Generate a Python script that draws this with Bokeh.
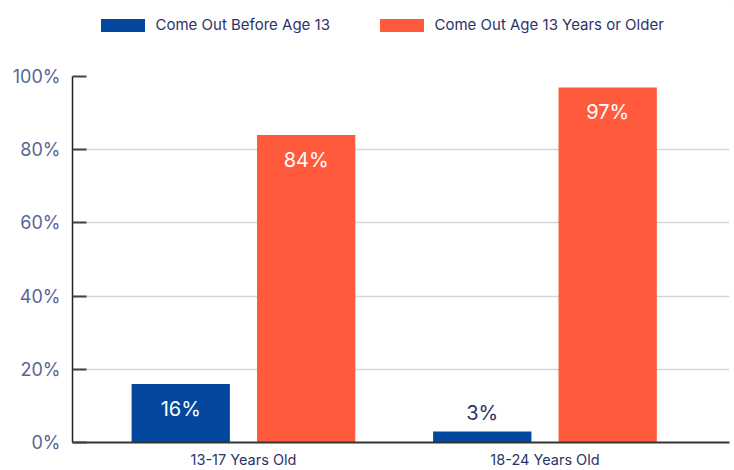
from bokeh.plotting import figure
from bokeh.layouts import column
from bokeh.models import (Range1d, FixedTicker, PrintfTickFormatter, Legend,
                          LegendItem, ColumnDataSource)
from bokeh.core.properties import value
from bokeh.embed import file_html
from bokeh.resources import INLINE

# Survey data: share of respondents by age group
age_groups = ["13-17 Years Old", "18-24 Years Old"]
series_names = ["Come Out Before Age 13", "Come Out Age 13 Years or Older"]
before_13 = [16, 3]
age_13_or_older = [84, 97]
y_ticks = [0, 20, 40, 60, 80, 100]

BLUE = "#03489e"
ORANGE = "#ff5a3c"
NAVY = "#2c3467"
TICK_TEXT = "#5a6494"
FONT = "Inter"

TOP_H = 64

# ---- main chart ----
p = figure(width=734, height=470 - TOP_H, output_backend="svg",
           toolbar_location=None,
           x_range=Range1d(-0.567, 1.612), y_range=Range1d(0, 100),
           min_border_left=72, min_border_right=5, min_border_top=12,
           min_border_bottom=28)
p.outline_line_color = None

offset = 0.208
bar_w = 0.326
idx = list(range(len(age_groups)))
colors = [BLUE, ORANGE]

for vals, color, off in zip([before_13, age_13_or_older], colors, [-offset, offset]):
    xs = [i + off for i in idx]
    src = ColumnDataSource(dict(x=xs, top=vals))
    p.vbar(x="x", top="top", width=bar_w, bottom=0, source=src,
           fill_color=color, line_color=None)

    # value labels: inside the bar for tall bars, above it for short ones
    inside = [v >= 10 for v in vals]
    lab = ColumnDataSource(dict(
        x=xs, y=vals, text=[f"{v}%" for v in vals],
        color=["white" if ins else NAVY for ins in inside],
        dy=[25 if ins else -19 for ins in inside]))
    p.text(x="x", y="y", text="text", source=lab, text_color="color",
           y_offset="dy", text_align="center", text_baseline="middle",
           text_font_size="20px", text_font=value(FONT))

# axes
p.xaxis.ticker = FixedTicker(ticks=idx)
p.xaxis.major_label_overrides = {i: g for i, g in zip(idx, age_groups)}
p.xaxis.major_tick_line_color = None
p.xaxis.major_tick_out = 0
p.xaxis.major_tick_in = 0
p.xaxis.minor_tick_line_color = None
p.xaxis.axis_line_color = "#333333"
p.xaxis.axis_line_width = 2
p.xaxis.major_label_text_font = FONT
p.xaxis.major_label_text_font_size = "14.5px"
p.xaxis.major_label_text_color = NAVY
p.xaxis.major_label_standoff = 8

p.yaxis.ticker = FixedTicker(ticks=y_ticks)
p.yaxis.formatter = PrintfTickFormatter(format="%d%%")
p.yaxis.major_tick_in = 14
p.yaxis.major_tick_out = 0
p.yaxis.major_tick_line_color = "#444444"
p.yaxis.major_tick_line_width = 2
p.yaxis.minor_tick_line_color = None
p.yaxis.axis_line_color = "#222222"
p.yaxis.axis_line_width = 1.5
p.yaxis.major_label_text_font = FONT
p.yaxis.major_label_text_font_size = "18px"
p.yaxis.major_label_text_color = TICK_TEXT
p.yaxis.major_label_standoff = 12

p.xgrid.grid_line_color = None
p.ygrid.grid_line_color = "#d6d6d6"
p.ygrid.grid_line_width = 1.5

# ---- legend strip above the chart (its frame lines up with the chart's) ----
top = figure(width=734, height=TOP_H, output_backend="svg",
             toolbar_location=None, x_axis_location=None, y_axis_location=None,
             x_range=Range1d(0, 1), y_range=Range1d(0, 1),
             min_border=0)
top.outline_line_color = None
top.xgrid.grid_line_color = None
top.ygrid.grid_line_color = None

# bar swatches are drawn inset by 10% of the glyph box, so the box is enlarged
for name, color, loc in zip(series_names, colors, [(22.5, 30), (301.5, 30)]):
    # off-range proxy bar, only used for the legend swatch
    swatch = top.vbar(x=[5], top=[5], bottom=[4], width=0.1,
                      fill_color=color, line_color=None)
    leg = Legend(items=[LegendItem(label=name, renderers=[swatch])], location=loc,
                 orientation="horizontal", padding=0, margin=0, spacing=0,
                 glyph_width=55, glyph_height=16, label_standoff=6,
                 label_text_font=FONT, label_text_font_size="15px",
                 label_text_color=NAVY, background_fill_alpha=0,
                 border_line_color=None)
    top.add_layout(leg)

open("out.html", "w").write(file_html(column(top, p, spacing=0), INLINE))
